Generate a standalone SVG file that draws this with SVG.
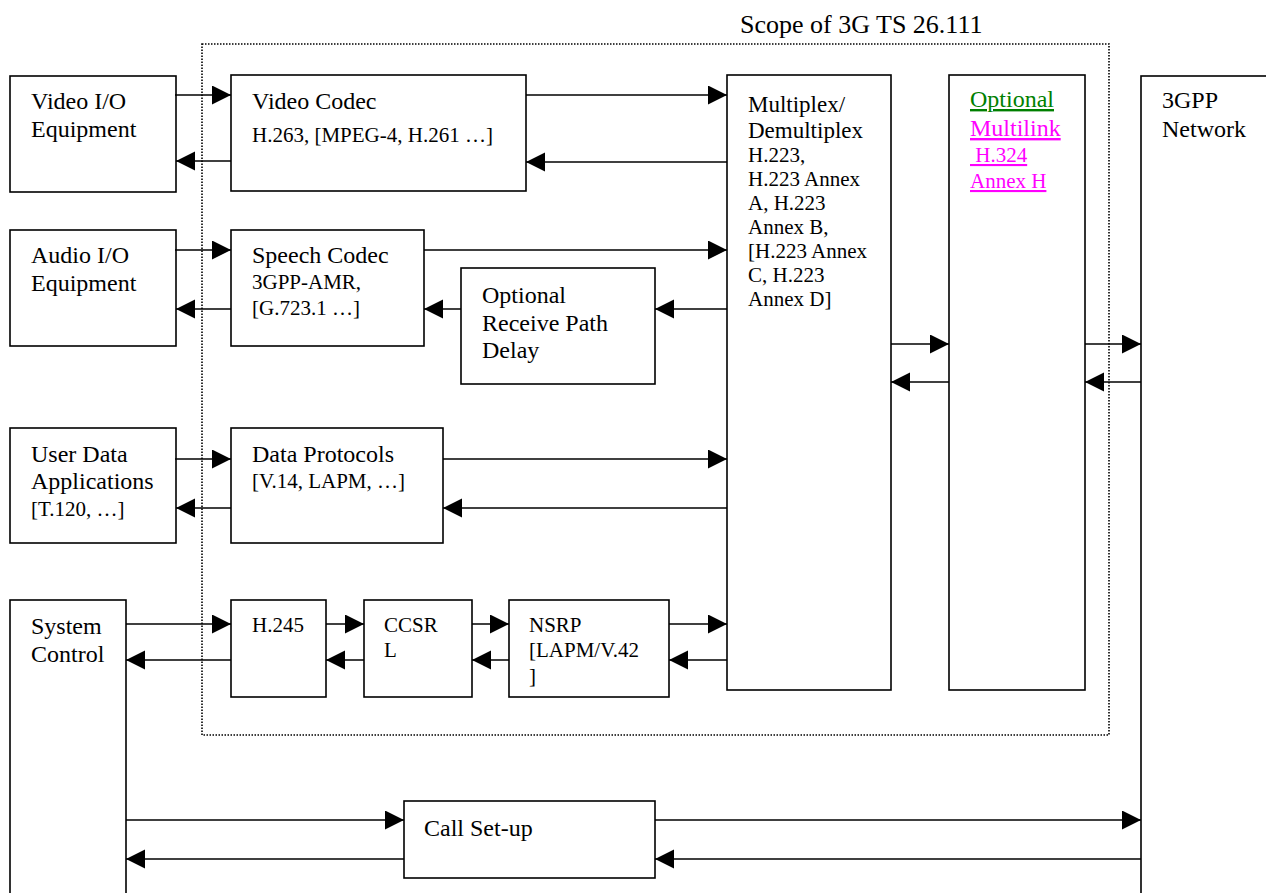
<svg xmlns="http://www.w3.org/2000/svg" width="1266" height="893" viewBox="0 0 1266 893">
<style>
text{font-family:"Liberation Serif","Times New Roman",serif;fill:#000}
.a{font-size:24px}
.a2{font-size:23px}
.b{font-size:21px}
.s{font-size:26px}
.box{fill:#fff;stroke:#000;stroke-width:1.6}
.c{fill:none;stroke:#000;stroke-width:1.3}
.u{text-decoration:underline;white-space:pre}
.g{fill:#008000}
.m{fill:#ff00ff}
</style>
<defs>
<marker id="ah" markerUnits="userSpaceOnUse" markerWidth="20" markerHeight="20" refX="19" refY="9.5" orient="auto">
<path d="M0,0 L19,9.5 L0,19 z" fill="#000"/>
</marker>
</defs>
<rect width="1266" height="893" fill="#fff"/>
<g id="scope">
<rect x="202" y="44" width="907" height="691" fill="none" stroke="#000" stroke-width="1.6" stroke-dasharray="1.5 1.5"/>
<text class="s" x="740" y="33">Scope of 3G TS 26.111</text>
</g>
<g id="video-io"><rect class="box" x="10" y="76" width="166" height="116"/><text class="a" x="31" y="109">Video I/O</text><text class="a" x="31" y="137">Equipment</text></g>
<g id="video-codec"><rect class="box" x="231" y="75" width="295" height="116"/><text class="a" x="252" y="109">Video Codec</text><text class="b" x="252" y="142">H.263, [MPEG-4, H.261 …]</text></g>
<g id="audio-io"><rect class="box" x="10" y="230" width="166" height="116"/><text class="a" x="31" y="263">Audio I/O</text><text class="a" x="31" y="291">Equipment</text></g>
<g id="speech-codec"><rect class="box" x="231" y="230" width="193" height="116"/><text class="a" x="252" y="263">Speech Codec</text><text class="b" x="252" y="289">3GPP-AMR,</text><text class="b" x="252" y="315">[G.723.1 …]</text></g>
<g id="delay"><rect class="box" x="461" y="268" width="194" height="116"/><text class="a" x="482" y="303">Optional</text><text class="a" x="482" y="331">Receive Path</text><text class="a" x="482" y="358">Delay</text></g>
<g id="user-data"><rect class="box" x="10" y="428" width="166" height="115"/><text class="a" x="31" y="462">User Data</text><text class="a" x="31" y="489">Applications</text><text class="b" x="31" y="516">[T.120, …]</text></g>
<g id="data-protocols"><rect class="box" x="231" y="428" width="212" height="115"/><text class="a" x="252" y="462">Data Protocols</text><text class="b" x="252" y="488">[V.14, LAPM, …]</text></g>
<g id="mux"><rect class="box" x="727" y="75" width="164" height="615"/>
<text class="a2" x="748" y="112">Multiplex/</text><text class="a2" x="748" y="138">Demultiplex</text>
<text class="b" x="748" y="162">H.223,</text><text class="b" x="748" y="186">H.223 Annex</text><text class="b" x="748" y="210">A, H.223</text><text class="b" x="748" y="234">Annex B,</text><text class="b" x="748" y="258">[H.223 Annex</text><text class="b" x="748" y="282">C, H.223</text><text class="b" x="748" y="306">Annex D]</text></g>
<g id="multilink"><rect class="box" x="949" y="75" width="136" height="615"/>
<text class="a u g" x="970" y="107">Optional</text><text class="a u m" x="970" y="136">Multilink</text><text class="b u m" x="970" y="162" xml:space="preserve"> H.324</text><text class="b u m" x="970" y="188">Annex H</text></g>
<g id="network"><rect class="box" x="1141" y="76" width="140" height="840"/><text class="a" x="1162" y="108">3GPP</text><text class="a" x="1162" y="137">Network</text></g>
<g id="system-control"><rect class="box" x="10" y="600" width="116" height="320"/><text class="a" x="31" y="634">System</text><text class="a" x="31" y="662">Control</text></g>
<g id="h245"><rect class="box" x="231" y="600" width="95" height="97"/><text class="b" x="252" y="632">H.245</text></g>
<g id="ccsrl"><rect class="box" x="364" y="600" width="108" height="97"/><text class="b" x="384" y="632">CCSR</text><text class="b" x="384" y="657">L</text></g>
<g id="nsrp"><rect class="box" x="509" y="600" width="160" height="97"/><text class="b" x="529" y="632">NSRP</text><text class="b" x="529" y="657">[LAPM/V.42</text><text class="b" x="529" y="683">]</text></g>
<g id="call-setup"><rect class="box" x="404" y="801" width="251" height="77"/><text class="a" x="424" y="836">Call Set-up</text></g>
<g id="connectors">
<path class="c" marker-end="url(#ah)" d="M175,95 H231"/>
<path class="c" marker-end="url(#ah)" d="M231,161 H176"/>
<path class="c" marker-end="url(#ah)" d="M526,95 H727"/>
<path class="c" marker-end="url(#ah)" d="M727,162 H526"/>
<path class="c" marker-end="url(#ah)" d="M175,250 H231"/>
<path class="c" marker-end="url(#ah)" d="M231,309 H176"/>
<path class="c" marker-end="url(#ah)" d="M424,250 H727"/>
<path class="c" marker-end="url(#ah)" d="M727,309 H655"/>
<path class="c" marker-end="url(#ah)" d="M461,309 H424"/>
<path class="c" marker-end="url(#ah)" d="M175,459 H231"/>
<path class="c" marker-end="url(#ah)" d="M231,508 H176"/>
<path class="c" marker-end="url(#ah)" d="M443,459 H727"/>
<path class="c" marker-end="url(#ah)" d="M727,508 H443"/>
<path class="c" marker-end="url(#ah)" d="M891,344 H949"/>
<path class="c" marker-end="url(#ah)" d="M949,382 H891"/>
<path class="c" marker-end="url(#ah)" d="M1085,344 H1141"/>
<path class="c" marker-end="url(#ah)" d="M1141,382 H1085"/>
<path class="c" marker-end="url(#ah)" d="M126,624 H231"/>
<path class="c" marker-end="url(#ah)" d="M231,660 H126"/>
<path class="c" marker-end="url(#ah)" d="M326,624 H364"/>
<path class="c" marker-end="url(#ah)" d="M364,660 H326"/>
<path class="c" marker-end="url(#ah)" d="M472,624 H509"/>
<path class="c" marker-end="url(#ah)" d="M509,660 H472"/>
<path class="c" marker-end="url(#ah)" d="M669,624 H727"/>
<path class="c" marker-end="url(#ah)" d="M727,660 H669"/>
<path class="c" marker-end="url(#ah)" d="M126,820 H404"/>
<path class="c" marker-end="url(#ah)" d="M404,859 H126"/>
<path class="c" marker-end="url(#ah)" d="M655,820 H1141"/>
<path class="c" marker-end="url(#ah)" d="M1141,859 H655"/>
</g>
</svg>
